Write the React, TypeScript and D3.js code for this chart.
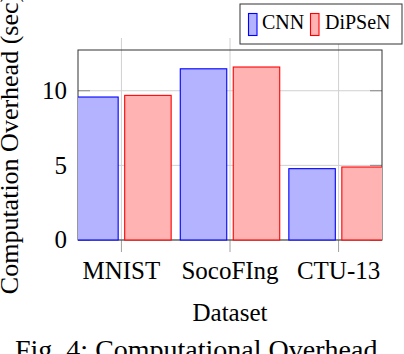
import React from "react";
import * as d3 from "d3";

const categories = ["MNIST", "SocoFIng", "CTU-13"];
const seriesNames = ["CNN", "DiPSeN"];
const cnnValues = [9.58, 11.47, 4.78];
const dipsenValues = [9.69, 11.59, 4.89];
const yTicks = [0, 5, 10];

const W = 404;
const H = 354;
const plot = { left: 78, right: 382, top: 50, bottom: 240 };
const FONT = '"Liberation Serif", "Times New Roman", Times, "DejaVu Serif", serif';

const seriesStyles = [
  { fill: "#b3b3ff", stroke: "#0000ff" },
  { fill: "#ffb3b3", stroke: "#ff0000" },
];

export default function App() {
  const x = d3.scaleLinear().domain([-0.4, 2.4]).range([plot.left, plot.right]);
  const y = d3.scaleLinear().domain([0, 12.73]).range([plot.bottom, plot.top]);
  const barW = 0.428;
  const offsets = [-0.244, 0.244];
  const series = [cnnValues, dipsenValues];
  const ts = { fontFamily: FONT };

  return (
    <svg
      width={W}
      height={H}
      viewBox={`0 0 ${W} ${H}`}
      style={{ position: "absolute", left: 0, top: 0, background: "#fff", fontFamily: FONT }}
    >
      <defs>
        <clipPath id="plotClip">
          <rect x={plot.left} y={plot.top} width={plot.right - plot.left} height={plot.bottom - plot.top + 1} />
        </clipPath>
      </defs>
      <rect x={0} y={0} width={W} height={H} fill="#fff" />

      {yTicks.map((t) => (
        <line key={"hg" + t} x1={plot.left} x2={plot.right} y1={y(t)} y2={y(t)} stroke="#d0d0d0" strokeWidth={1} />
      ))}
      {categories.map((c, i) => (
        <g key={"vg" + c}>
          <line x1={x(i)} x2={x(i)} y1={plot.top - 12} y2={plot.bottom} stroke="#d0d0d0" strokeWidth={1} />
          <line x1={x(i)} x2={x(i)} y1={plot.bottom} y2={plot.bottom + 12} stroke="#a0a0a0" strokeWidth={1} />
        </g>
      ))}
      {yTicks.map((t) => (
        <g key={"yt" + t}>
          <line x1={plot.left} x2={plot.left + 12} y1={y(t)} y2={y(t)} stroke="#888" strokeWidth={1} />
          <line x1={plot.right - 12} x2={plot.right} y1={y(t)} y2={y(t)} stroke="#888" strokeWidth={1} />
        </g>
      ))}
      <rect
        x={plot.left}
        y={plot.top}
        width={plot.right - plot.left}
        height={plot.bottom - plot.top}
        fill="none"
        stroke="#333"
        strokeWidth={1}
      />

      <g clipPath="url(#plotClip)">
        {series.map((vals, s) =>
          vals.map((v, i) => {
            const x0 = x(i + offsets[s] - barW / 2);
            const x1 = x(i + offsets[s] + barW / 2);
            return (
              <rect
                key={`b${s}-${i}`}
                x={x0}
                y={y(v)}
                width={x1 - x0}
                height={y(0) - y(v)}
                fill={seriesStyles[s].fill}
                stroke={seriesStyles[s].stroke}
                strokeWidth={1.1}
              />
            );
          })
        )}
      </g>

      {yTicks.map((t) => (
        <text key={"yl" + t} x={67} y={y(t) + 8.3} textAnchor="end" fontSize={25} fill="#000" style={ts}>
          {t}
        </text>
      ))}
      {categories.map((c, i) => (
        <text key={"xl" + c} x={x(i)} y={279.3} textAnchor="middle" fontSize={25} fill="#000" style={ts}>
          {c}
        </text>
      ))}
      <text x={(plot.left + plot.right) / 2} y={320.7} textAnchor="middle" fontSize={25} fill="#000" style={ts}>
        Dataset
      </text>
      <text
        transform={`translate(18.3, ${(plot.top + plot.bottom) / 2 - 1}) rotate(-90)`}
        textAnchor="middle"
        fontSize={26}
        fill="#000"
        style={ts}
      >
        Computation Overhead (sec)
      </text>

      <rect x={240} y={4} width={162} height={40} fill="#fff" stroke="#333" strokeWidth={1} />
      {seriesNames.map((n, s) => {
        const ix = s === 0 ? 248.5 : 310.5;
        const tx = s === 0 ? 262 : 325;
        return (
          <g key={"lg" + n}>
            <rect x={ix} y={13.5} width={8.5} height={22} fill={seriesStyles[s].fill} stroke={seriesStyles[s].stroke} strokeWidth={1.1} />
            <text x={tx} y={28.5} fontSize={20} fill="#000" style={ts}>
              {n}
            </text>
          </g>
        );
      })}

      <text x={15} y={358.5} fontSize={28} fill="#000" style={ts}>
        Fig. 4: Computational Overhead
      </text>
    </svg>
  );
}
